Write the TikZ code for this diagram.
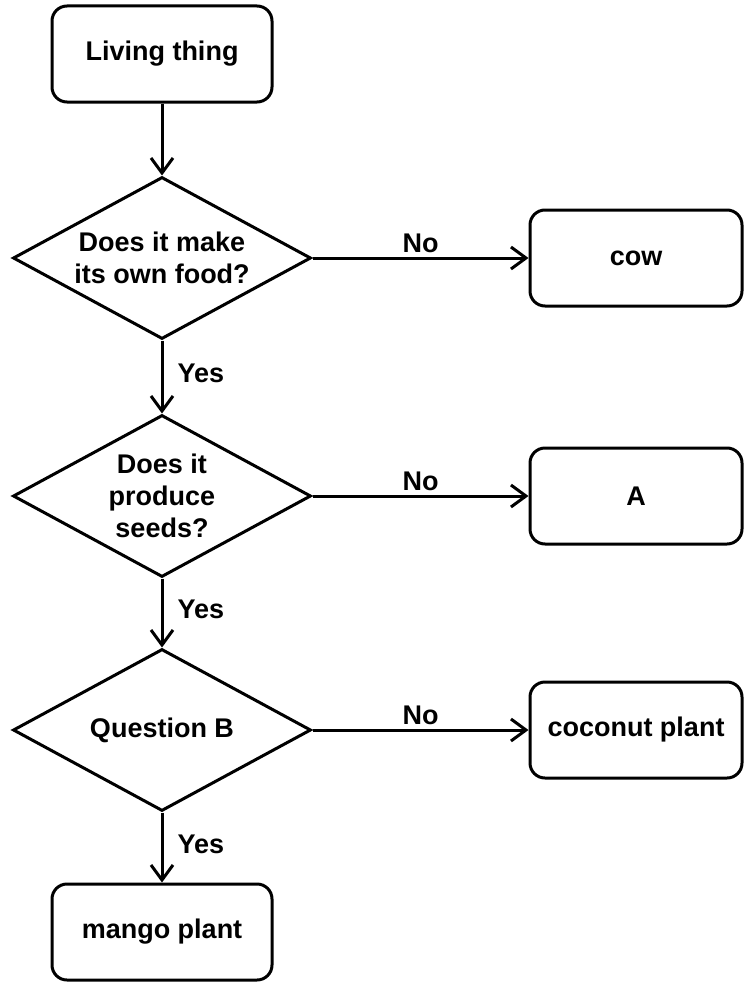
\documentclass[tikz,border=0pt]{standalone}
\usepackage{fontspec}
\setmainfont{Liberation Sans}
\usetikzlibrary{%
  positioning
 ,shapes
 ,arrows.meta
}
\tikzstyle{chart}=[x=1pt,y=-1pt,line width=3pt,on grid,auto,>={Straight Barb[length=15pt,width=22pt]},font=\bfseries\fontsize{27}{32}\selectfont]
\tikzstyle{box}=[draw,rounded corners=15pt,minimum width=220pt,minimum height=96pt,inner sep=0pt]
\tikzstyle{ans}=[box,minimum width=212pt]
\tikzstyle{ask}=[draw,diamond,aspect=1.84,minimum width=298pt,minimum height=162pt,inner sep=0pt,align=center]
\tikzstyle{no}=[inner sep=4pt]
\tikzstyle{yes}=[inner sep=14pt,pos=0.45]

\begin{document}
\begin{tikzpicture}[chart]
  \useasboundingbox (0,0) rectangle (745,982);
  \node[box]  (live)  at (162,54)           {Living thing};
  \node[ask]  (food)  [below=204pt of live] {Does it make\\its own food?};
  \node[ans]  (cow)   [right=474pt of food] {cow};
  \node[ask]  (seeds) [below=238pt of food] {Does it\\produce\\seeds?};
  \node[ans]  (a)     [right=474pt of seeds] {A};
  \node[ask]  (qb)    [below=234pt of seeds] {Question B};
  \node[ans]  (coco)  [right=474pt of qb]   {coconut plant};
  \node[box]  (mango) [below=202pt of qb]   {mango plant};
%
  \path[->]
  (live)  edge                      (food)
  (food)  edge node[no]  {No}       (cow)
  (food)  edge node[yes] {Yes}      (seeds)
  (seeds) edge node[no]  {No}       (a)
  (seeds) edge node[yes] {Yes}      (qb)
  (qb)    edge node[no]  {No}       (coco)
  (qb)    edge node[yes] {Yes}      (mango);
\end{tikzpicture}
\end{document}
